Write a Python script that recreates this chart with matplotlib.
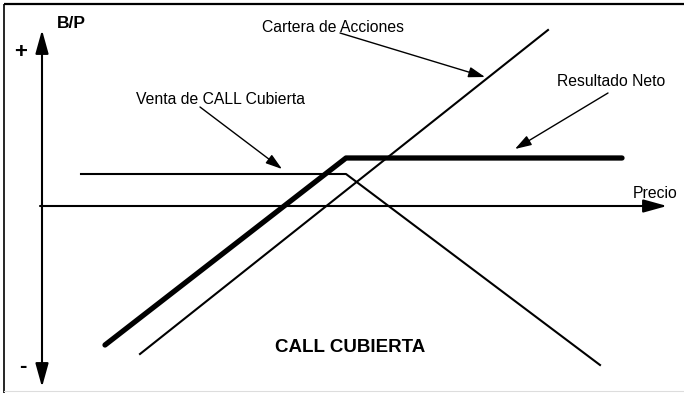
import matplotlib
matplotlib.use("Agg")
import matplotlib.pyplot as plt

plt.rcParams['font.family'] = ['Liberation Sans', 'DejaVu Sans']

# payoff lines (price vs profit, origin where the axes cross)
stock_x = [98, 506]
stock_y = [-148, 176]

net_x = [63, 304, 580]
net_y = [-139, 48, 48]

call_x = [39, 304, 558]
call_y = [32, 32, -159]

labels = ["Cartera de Acciones", "Venta de CALL Cubierta", "Resultado Neto"]
title = "CALL CUBIERTA"

fig = plt.figure(figsize=(6.84, 3.93), dpi=100)
ax = fig.add_axes([0, 0, 1, 1])
ax.set_xlim(-42, 642)
ax.set_ylim(-187, 206)
ax.axis('off')

# frame (top and left edge)
ax.plot([-38, 642], [202, 202], color='black', lw=1.6, solid_capstyle='butt')
ax.plot([-38, -38], [202, -187], color='black', lw=1.2, solid_capstyle='butt')
ax.plot([-38, 642], [-185, -185], color='#dddddd', lw=0.8)

# axes with arrows
axis_arrow = dict(arrowstyle='-|>,head_length=0.72,head_width=0.2', color='black',
                  lw=1.5, mutation_scale=20, shrinkA=0, shrinkB=0)
ax.annotate('', xy=(0, 176), xytext=(0, 0), arrowprops=axis_arrow)
ax.annotate('', xy=(0, -181), xytext=(0, 0), arrowprops=axis_arrow)
ax.annotate('', xy=(625, 0), xytext=(-2, 0), arrowprops=axis_arrow)

ax.plot(stock_x, stock_y, color='black', lw=1.5)
ax.plot(call_x, call_y, color='black', lw=1.5)
ax.plot(net_x, net_y, color='black', lw=3.8, solid_capstyle='round')

arrow = dict(arrowstyle='-|>,head_length=0.5,head_width=0.16', color='black',
             lw=1.0, mutation_scale=20, shrinkA=0, shrinkB=0)
ax.text(291, 179, labels[0], ha='center', va='center', fontsize=11.3)
ax.annotate('', xy=(443, 129), xytext=(298, 173), arrowprops=arrow)
ax.text(178, 106, labels[1], ha='center', va='center', fontsize=11.3)
ax.annotate('', xy=(240, 37), xytext=(158, 99), arrowprops=arrow)
ax.text(569, 124, labels[2], ha='center', va='center', fontsize=11.3)
ax.annotate('', xy=(473, 57), xytext=(566, 113), arrowprops=arrow)

ax.text(613, 13, "Precio", ha='center', va='center', fontsize=11.3)
ax.text(29, 183, "B/P", ha='center', va='center', fontsize=12.5, fontweight='bold')
ax.text(-21, 153, "+", ha='center', va='center', fontsize=16, fontweight='bold')
ax.text(-19, -160, "-", ha='center', va='center', fontsize=16, fontweight='bold')
ax.text(308, -142, title, ha='center', va='center', fontsize=13.5, fontweight='bold')

fig.savefig("out.png", dpi=100)
